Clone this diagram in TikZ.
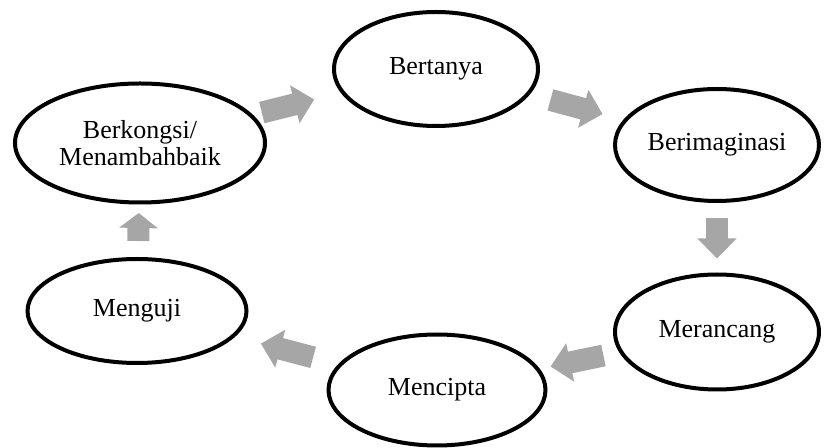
\documentclass[tikz,border=0pt]{standalone}
\usepackage{fontspec}
\setmainfont{Liberation Serif}
\usetikzlibrary{arrows.meta, shapes.geometric, calc}
\definecolor{arrowgray}{HTML}{A6A6A6}

\begin{document}
\begin{tikzpicture}[x=0.5pt, y=-0.5pt,
    stage/.style={ellipse, draw=black, line width=2pt, fill=white,
        inner sep=0pt, align=center, font=\fontsize{13}{13.5}\selectfont},
    flow/.style={draw=arrowgray, line width=11pt,
        -{Triangle[width=19pt, length=10pt]}}]
    \useasboundingbox (0, 0) rectangle (825, 448);
    % the six stages
    \node [stage, minimum width=102pt, minimum height=57pt]
        (tanya) at (436, 69) {Bertanya};
    \node [stage, minimum width=102pt, minimum height=56pt]
        (imaj) at (717, 145) {Berimaginasi};
    \node [stage, minimum width=102pt, minimum height=57.5pt]
        (rancang) at (717, 332) {Merancang};
    \node [stage, minimum width=108.5pt, minimum height=55.5pt]
        (cipta) at (437, 390) {Mencipta};
    \node [stage, minimum width=109.5pt, minimum height=52pt]
        (uji) at (137, 311) {Menguji};
    \node [stage, minimum width=125pt, minimum height=59.5pt]
        (kongsi) at (140, 143) {Berkongsi/\\Menambahbaik};
    % block arrows between them
    \draw [flow] ($(kongsi)!.5!(tanya)!-13.5pt!(tanya)$)
        -- ($(kongsi)!.5!(tanya)!13.5pt!(tanya)$);
    \draw [flow] ($(tanya)!.5!(imaj)!-13.5pt!(imaj)$)
        -- ($(tanya)!.5!(imaj)!13.5pt!(imaj)$);
    \draw [flow] ($(imaj)!.5!(rancang)!-10pt!(rancang)$)
        -- ($(imaj)!.5!(rancang)!10pt!(rancang)$);
    \draw [flow] ($(rancang)!.5!(cipta)!-13.5pt!(cipta)$)
        -- ($(rancang)!.5!(cipta)!13.5pt!(cipta)$);
    \draw [flow] ($(cipta)!.5!(uji)!-13.5pt!(uji)$)
        -- ($(cipta)!.5!(uji)!13.5pt!(uji)$);
    \draw [flow, -{Triangle[width=19pt, length=7.5pt]}]
        ($(uji)!.5!(kongsi)!-7pt!(kongsi)$)
        -- ($(uji)!.5!(kongsi)!7pt!(kongsi)$);
\end{tikzpicture}
\end{document}
